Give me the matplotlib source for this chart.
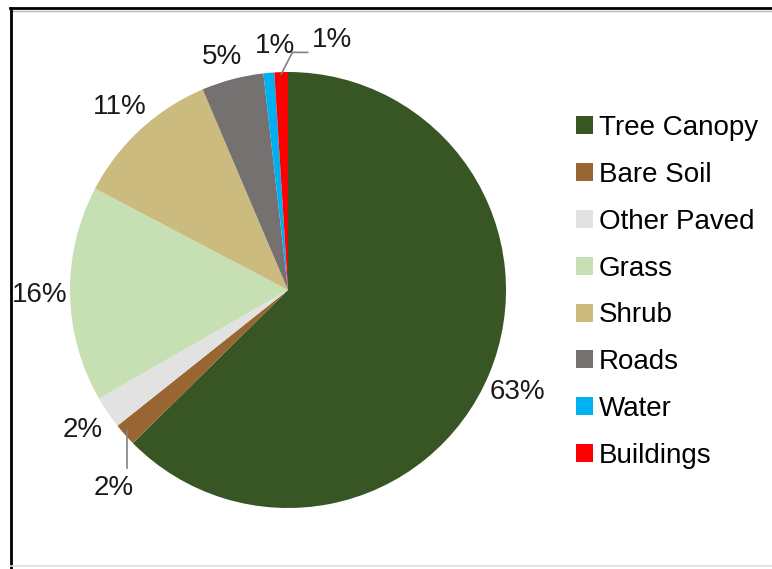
import matplotlib.pyplot as plt
import numpy as np
from matplotlib.lines import Line2D
from matplotlib.patches import Patch

plt.rcParams["font.family"] = ["Liberation Sans", "DejaVu Sans"]

# land cover shares (%), clockwise from 12 o'clock
categories = ["Tree Canopy", "Bare Soil", "Other Paved", "Grass",
              "Shrub", "Roads", "Water", "Buildings"]
shares = [62.6, 1.7, 2.4, 16.0, 10.9, 4.6, 0.8, 1.0]
colors = ["#375623", "#996633", "#E2E2E2", "#C6E0B4",
          "#CCBB7F", "#767171", "#00B0F0", "#FF0000"]

W, H = 772, 569
fig = plt.figure(figsize=(W / 100, H / 100), dpi=100)

# pie center / radius in pixels
cx, cy, r = 288, 290, 218
ax = fig.add_axes([0, 0, 1, 1])
wedges, _ = ax.pie(shares, colors=colors, startangle=90, counterclock=False,
                   radius=1.0, wedgeprops=dict(linewidth=0))
ax.set_xlim(-cx / r, (W - cx) / r)
ax.set_ylim(-(H - cy) / r, cy / r)
ax.set_aspect("auto")
ax.axis("off")

fs = 20
total = sum(shares)
for i, (w, v) in enumerate(zip(wedges, shares)):
    mid = np.deg2rad((w.theta1 + w.theta2) / 2)
    x, y = 1.14 * np.cos(mid), 1.14 * np.sin(mid)
    label = f"{round(v / total * 100):.0f}%"
    name = categories[i]
    if name == "Buildings":
        ax.plot([np.cos(mid), 0.02, 0.09], [np.sin(mid) - 0.01, 1.09, 1.09],
                color="#808080", lw=1.2)
        x, y = 0.2, 1.145
    elif name == "Bare Soil":
        ax.plot([np.cos(mid) + 0.01, np.cos(mid) + 0.01],
                [-0.642, -0.817], color="#808080", lw=1.2)
        x, y = -0.80, -0.91
    elif name == "Water":
        x, y = -0.06, 1.12
    elif name == "Roads":
        x, y = 1.11 * np.cos(mid) - 0.02, 1.07
    elif name == "Tree Canopy":
        y -= 0.03
    ax.text(x, y, label, ha="center", va="center", fontsize=fs, color="#1a1a1a")

handles = [Patch(facecolor=c, edgecolor="none") for c in colors]
fig.legend(handles, categories, loc="center left",
           bbox_to_anchor=(565 / W, 1 - 292 / H), frameon=False,
           fontsize=fs, handlelength=0.62, handleheight=0.62,
           handletextpad=0.2, labelspacing=0.75, borderaxespad=0)

# frame lines around the picture
def px_line(x0, y0, x1, y1, color, lw):
    fig.add_artist(Line2D([x0 / W, x1 / W], [1 - y0 / H, 1 - y1 / H],
                          color=color, lw=lw, transform=fig.transFigure))

px_line(10, 10.5, W, 10.5, "#BBBBBB", 1.0)
px_line(10, 8, W, 8, "black", 2.0)
px_line(11, 8, 11, H, "black", 2.0)
px_line(10, 566, W, 566, "#DDDDDD", 1.2)

fig.savefig("out.png", dpi=100)
